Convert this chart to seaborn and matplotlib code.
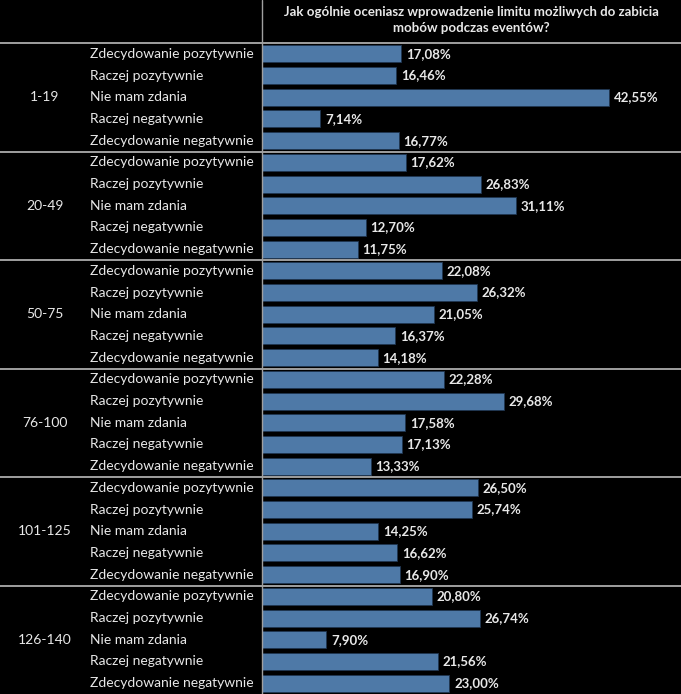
import pandas as pd
import matplotlib
matplotlib.use("Agg")
import matplotlib.pyplot as plt
import matplotlib.transforms as mtransforms
from matplotlib.lines import Line2D
import seaborn as sns

age_groups = ['1-19', '20-49', '50-75', '76-100', '101-125', '126-140']
answers = ['Zdecydowanie pozytywnie', 'Raczej pozytywnie', 'Nie mam zdania',
           'Raczej negatywnie', 'Zdecydowanie negatywnie']
pct_1_19 = [17.08, 16.46, 42.55, 7.14, 16.77]
pct_20_49 = [17.62, 26.83, 31.11, 12.70, 11.75]
pct_50_75 = [22.08, 26.32, 21.05, 16.37, 14.18]
pct_76_100 = [22.28, 29.68, 17.58, 17.13, 13.33]
pct_101_125 = [26.50, 25.74, 14.25, 16.62, 16.90]
pct_126_140 = [20.80, 26.74, 7.90, 21.56, 23.00]
title = 'Jak ogólnie oceniasz wprowadzenie limitu możliwych do zabicia\nmobów podczas eventów?'

values = [pct_1_19, pct_20_49, pct_50_75, pct_76_100, pct_101_125, pct_126_140]
rows = []
for g, vals in zip(age_groups, values):
    for a, v in zip(answers, vals):
        rows.append({'key': g + '|' + a, 'group': g, 'answer': a, 'pct': v})
df = pd.DataFrame(rows)

sns.set_theme(style='white')
plt.rcParams['font.family'] = ['Lato', 'DejaVu Sans']

W, H = 681, 694
fig = plt.figure(figsize=(W / 100, H / 100), dpi=100, facecolor='black')
ax = fig.add_axes([262 / W, 0, (W - 262) / W, 651 / H])
ax.set_facecolor('black')

sns.barplot(data=df, y='key', x='pct', orient='h', color='#4e79a7',
            saturation=1, edgecolor='#1f3550', linewidth=0.6, width=0.78, ax=ax)

ax.set_xlim(0, 51.4)
ax.set_ylim(len(df) - 0.5, -0.5)
ax.set_xticks([])
ax.set_yticks([])
ax.set_xlabel('')
ax.set_ylabel('')
for s in ax.spines.values():
    s.set_visible(False)

txt_col = '#e8e8e8'
for i, r in df.iterrows():
    ax.text(r['pct'] + 0.6, i, f"{r['pct']:.2f}%".replace('.', ','),
            va='center', ha='left', color=txt_col, fontsize=9.5, fontweight='bold')

blend = mtransforms.blended_transform_factory(fig.transFigure, ax.transData)
for i, r in df.iterrows():
    t = fig.text(90 / W, 0, r['answer'], transform=blend, va='center', ha='left',
                 color=txt_col, fontsize=10)
    t.set_y(i)

n = len(answers)
for k, g in enumerate(age_groups):
    t = fig.text(45 / W, 0, g, transform=blend, va='center', ha='center',
                 color=txt_col, fontsize=10)
    t.set_y(k * n + (n - 1) / 2)

for k in range(len(age_groups)):
    ax.add_line(Line2D([0, 1], [k * n - 0.5, k * n - 0.5], transform=blend,
                       color='#a0a0a0', linewidth=1.4, clip_on=False))

fig.add_artist(Line2D([262 / W, 262 / W], [0, 1], transform=fig.transFigure,
                      color='#a0a0a0', linewidth=1.0))

fig.text((262 + W) / 2 / W, 1 - 20 / H, title, ha='center', va='center',
         color=txt_col, fontsize=9.5, fontweight='bold', linespacing=1.5)

fig.savefig('out.png', dpi=100, facecolor='black')
